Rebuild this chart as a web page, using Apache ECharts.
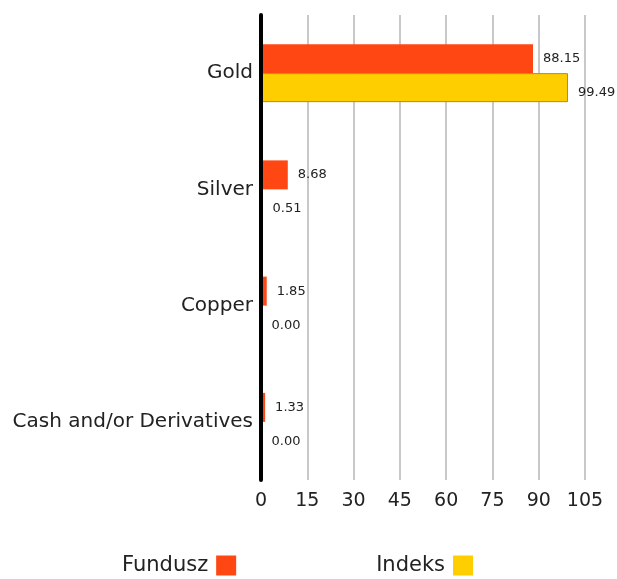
<!DOCTYPE html>
<html><head><meta charset="utf-8">
<script src="https://cdn.jsdelivr.net/npm/echarts@6/dist/echarts.min.js"></script>
<style>html,body{margin:0;padding:0;background:#fff}#c{width:617px;height:579px}</style>
</head><body><div id="c"></div>
<script>
const categories = ['Gold', 'Silver', 'Copper', 'Cash and/or Derivatives'];
const fundusz = [88.15, 8.68, 1.85, 1.33];
const indeks = [99.49, 0.51, 0.00, 0.00];
const seriesNames = ['Fundusz', 'Indeks'];
const xTicks = { min: 0, max: 105, interval: 15 };

const chart = echarts.init(document.getElementById('c'));
const font = 'DejaVu Sans, sans-serif';
const lbl = (dy) => ({
  show: true, position: 'right', distance: 10, color: '#222', fontSize: 13, fontFamily: font,
  offset: [0, dy],
  formatter: p => p.value.toFixed(2)
});
chart.setOption({
  animation: false,
  grid: { left: 261, right: 32, top: 15, bottom: 99, containLabel: false },
  legend: {
    top: 550, left: 117, itemWidth: 20, itemHeight: 20, itemGap: 140, align: 'right',
    icon: 'rect',
    itemStyle: { borderWidth: 0 },
    textStyle: { fontSize: 21, color: '#222', fontFamily: font, padding: [0, 3, 0, 0] },
    data: seriesNames
  },
  xAxis: {
    type: 'value', min: xTicks.min, max: xTicks.max, interval: xTicks.interval,
    axisLine: { show: false }, axisTick: { show: false },
    splitLine: { show: true, lineStyle: { color: '#c8c8c8', width: 2 } },
    axisLabel: { fontSize: 19, color: '#222', fontFamily: font, margin: 12 }
  },
  yAxis: {
    type: 'category', data: categories, inverse: true, z: 5,
    axisLine: { show: true, lineStyle: { color: '#000', width: 4 } },
    axisTick: { show: false },
    axisLabel: { fontSize: 20, color: '#222', fontFamily: font, margin: 8 }
  },
  series: [
    { name: seriesNames[0], type: 'bar', data: fundusz, barWidth: 29, barGap: '0%',
      itemStyle: { color: '#FF4713' }, label: lbl(0) },
    { name: seriesNames[1], type: 'bar', data: indeks, barWidth: 29,
      itemStyle: { color: '#FFCE00', borderColor: '#B39200', borderWidth: 1 }, label: lbl(5) }
  ]
});
</script></body></html>
